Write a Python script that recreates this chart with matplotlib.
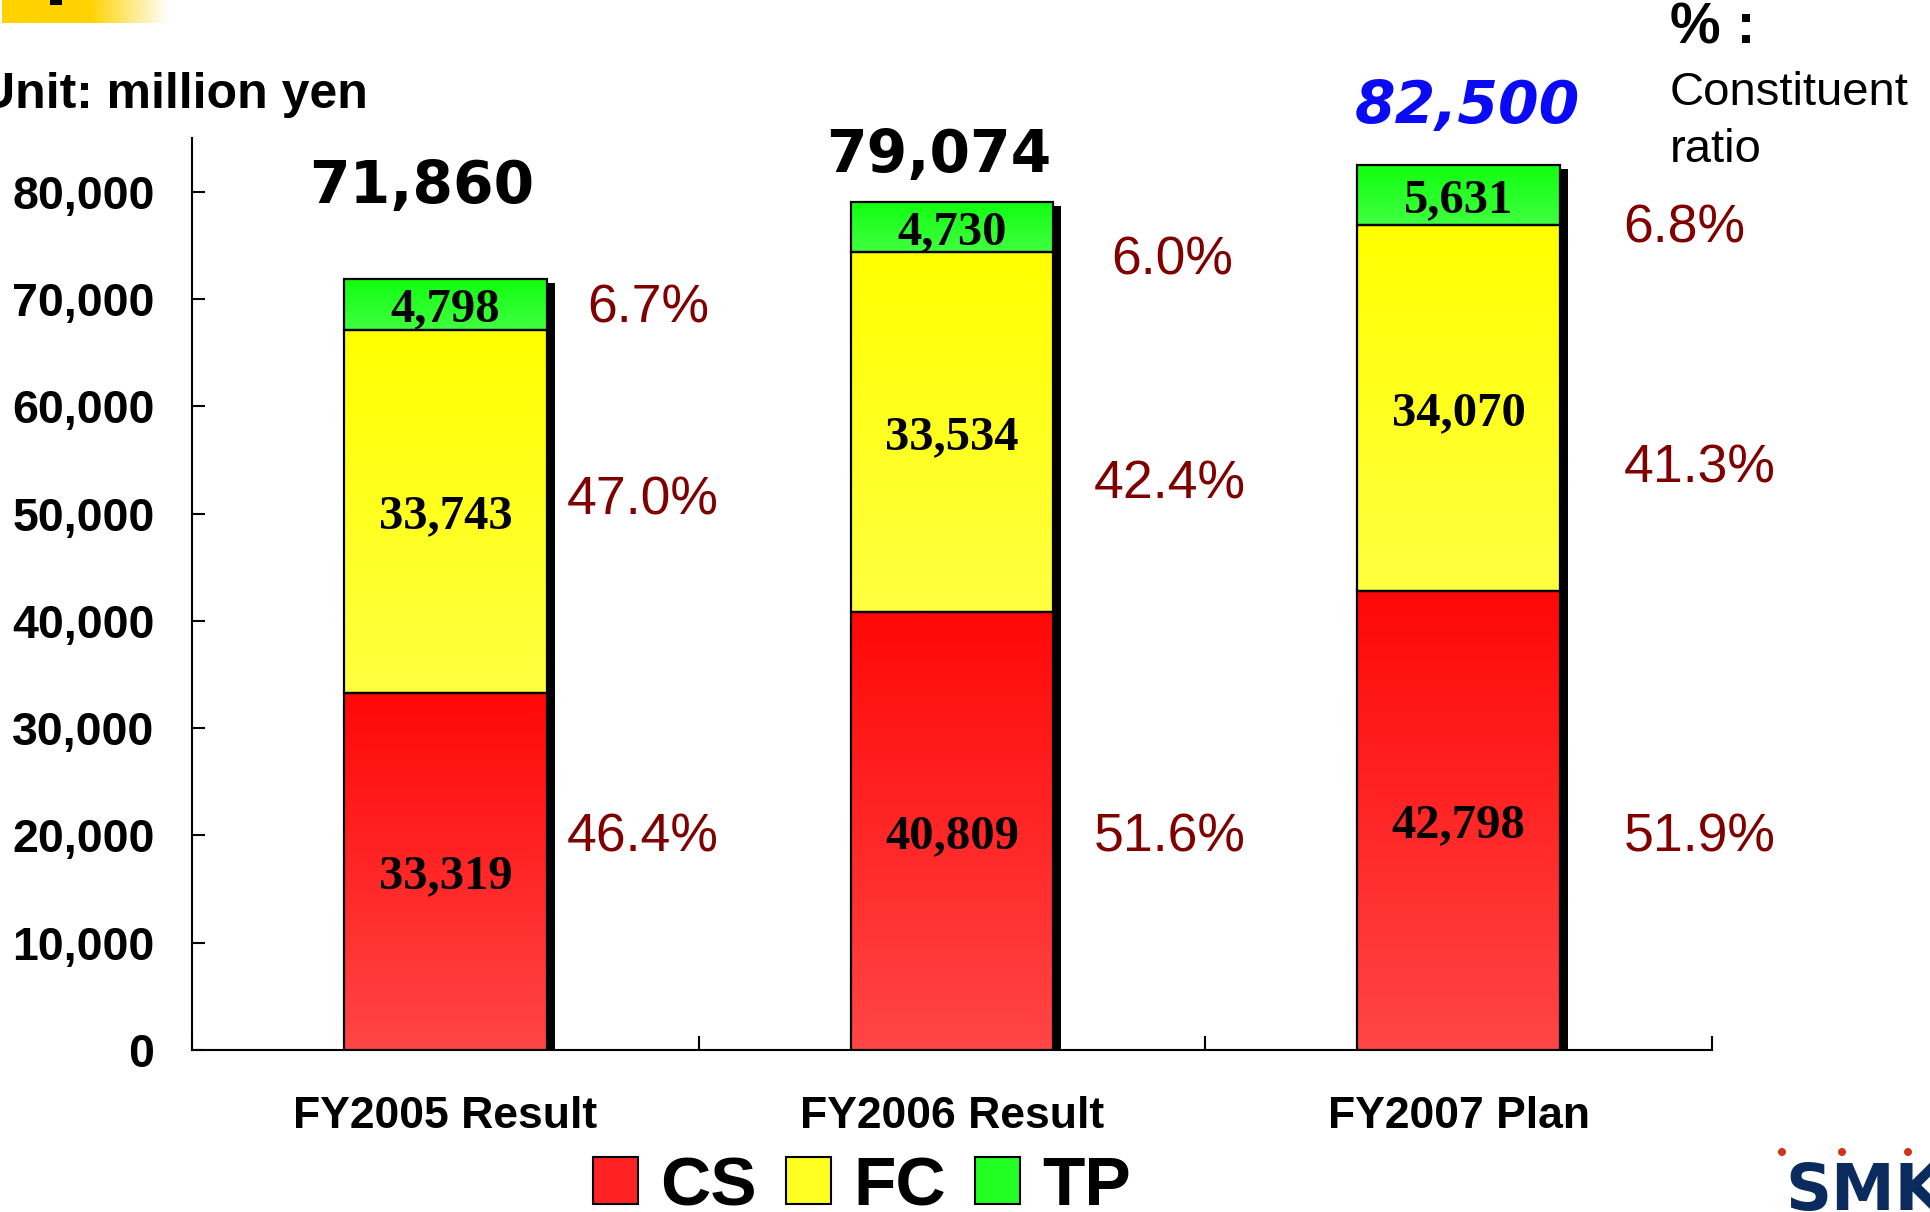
import numpy as np
import matplotlib
matplotlib.use('Agg')
import matplotlib.pyplot as plt
import matplotlib.patches as patches
import matplotlib.transforms as mtransforms
from matplotlib.font_manager import FontProperties

## DATA
categories = ['FY2005 Result', 'FY2006 Result', 'FY2007 Plan']
series_names = ['CS', 'FC', 'TP']
cs_vals = [33319, 40809, 42798]
fc_vals = [33743, 33534, 34070]
tp_vals = [4798, 4730, 5631]
total_labels = ['71,860', '79,074', '82,500']
cs_pct = ['46.4%', '51.6%', '51.9%']
fc_pct = ['47.0%', '42.4%', '41.3%']
tp_pct = ['6.7%', '6.0%', '6.8%']
yticks = [0, 10000, 20000, 30000, 40000, 50000, 60000, 70000, 80000]

## STYLE
grad_colors = {  # (bottom, top)
    'CS': ('#ff4545', '#ff0808'),
    'FC': ('#ffff40', '#ffff00'),
    'TP': ('#40ff40', '#10ff10'),
}
legend_colors = ['#ff2222', '#ffff22', '#22ff22']
pct_color = '#800000'
W, H = 1930, 1212

fig = plt.figure(figsize=(W / 100, H / 100), dpi=100)
ax = fig.add_axes([192 / W, 1 - 1050 / H, 1520 / W, 912 / H])

x = np.arange(len(categories))
bar_w = 0.4

# shadows behind the stacked bars
totals = np.array(cs_vals) + np.array(fc_vals) + np.array(tp_vals)
shadow_off = mtransforms.ScaledTranslation(8 / 100, -4 / 100, fig.dpi_scale_trans)
shadows = ax.bar(x, totals, bar_w, color='black', linewidth=0, zorder=2)
for p in shadows:
    p.set_transform(ax.transData + shadow_off)


def gradient(c0, c1, n=64):
    a = np.array(matplotlib.colors.to_rgb(c0))
    b = np.array(matplotlib.colors.to_rgb(c1))
    t = np.linspace(0, 1, n)[:, None]
    return (a + (b - a) * t)[:, None, :]


bottom = np.zeros(len(categories))
for name, vals in zip(series_names, [cs_vals, fc_vals, tp_vals]):
    bars = ax.bar(x, vals, bar_w, bottom=bottom, facecolor='none',
                  edgecolor='black', linewidth=1.6, zorder=4)
    g = gradient(*grad_colors[name])
    for rect in bars:
        x0, y0 = rect.get_x(), rect.get_y()
        ax.imshow(g, extent=[x0, x0 + rect.get_width(), y0, y0 + rect.get_height()],
                  origin='lower', aspect='auto', zorder=3, interpolation='bilinear')
    for xi, b, v in zip(x, bottom, vals):
        ax.annotate(f'{v:,}', (xi, b + v / 2), xytext=(0, -3.5), textcoords='offset points',
                    ha='center', va='center', family='Liberation Serif',
                    fontweight='bold', fontsize=35, zorder=5)
    bottom = bottom + np.array(vals)

# totals above bars
tot_dx = [-0.046, -0.026, 0.018]
tot_y = [78975, 81865, 86434]
for i, lab in enumerate(total_labels):
    if i == 2:
        ax.text(x[i] + tot_dx[i], tot_y[i], lab, ha='center', va='baseline',
                fontsize=42, fontweight='bold', style='italic', color='#0a0af5',
                family='DejaVu Sans', clip_on=False)
    else:
        ax.text(x[i] + tot_dx[i], tot_y[i], lab, ha='center', va='baseline',
                fontsize=42, fontweight='bold', color='black',
                family='DejaVu Sans', clip_on=False)

# constituent ratio labels
pct_dx = [[0.39, 0.43, 0.476], [0.39, 0.43, 0.476], [0.40, 0.434, 0.446]]
pct_y = [[18462, 18462, 18462], [49883, 51375, 52867], [67786, 72261, 75245]]
for k, labels in enumerate([cs_pct, fc_pct, tp_pct]):
    for i, lab in enumerate(labels):
        ax.text(x[i] + pct_dx[k][i], pct_y[k][i], lab, ha='center', va='baseline',
                fontsize=38.5, family='Liberation Sans', color=pct_color, clip_on=False)

ax.set_xlim(-0.5, 2.5)
ax.set_ylim(0, 85000)
ax.spines['right'].set_visible(False)
ax.spines['top'].set_visible(False)
ax.spines['left'].set_linewidth(1.5)
ax.spines['bottom'].set_linewidth(1.5)
ax.set_yticks(yticks)
ax.set_yticklabels([f'{v:,}' for v in yticks], family='Liberation Sans',
                   fontweight='bold', fontsize=33.5)
ax.tick_params(axis='y', direction='in', length=9.5, width=1.5, pad=27)
ax.set_xticks([-0.5, 0.5, 1.5, 2.5])
ax.set_xticklabels([])
ax.tick_params(axis='x', which='major', direction='in', length=10, width=1.5)
ax.set_xticks(x, minor=True)
ax.set_xticklabels(categories, minor=True, family='Liberation Sans',
                   fontweight='bold', fontsize=32)
ax.tick_params(axis='x', which='minor', length=0, pad=33)

# legend
handles = [patches.Patch(facecolor=c, edgecolor='black', linewidth=1.5) for c in legend_colors]
leg_font = FontProperties(family='Liberation Sans', weight='bold', size=50)
fig.legend(handles, series_names, loc='center', bbox_to_anchor=(862 / W, 1 - 1187 / H),
           ncol=3, frameon=False, prop=leg_font, handlelength=0.65, handleheight=0.65,
           handletextpad=0.32, columnspacing=0.42, borderpad=0, borderaxespad=0)

## DECORATION (pixel overlay)
ov = fig.add_axes([0, 0, 1, 1], zorder=5)
ov.axis('off')
ov.patch.set_visible(False)

# orange header strip fading out
xs = np.linspace(2, 170, 200)
strip = np.zeros((1, 200, 4))
strip[..., :3] = matplotlib.colors.to_rgb('#ffd200')
strip[0, :, 3] = np.clip((170 - xs) / 80, 0, 1)
ov.imshow(strip, extent=[2, 170, 23, 0], aspect='auto', interpolation='bilinear')
ov.add_patch(patches.Rectangle((50, 0), 12, 5, color='black', linewidth=0))
ov.set_xlim(0, W)
ov.set_ylim(H, 0)

ov.text(368, 108, 'Unit: million yen', ha='right', va='baseline',
        family='Liberation Sans', fontweight='bold', fontsize=36)
ov.text(1670, 43, '% :', ha='left', va='baseline',
        family='Liberation Sans', fontweight='bold', fontsize=41)
ov.text(1670, 105, 'Constituent', ha='left', va='baseline',
        family='Liberation Sans', fontsize=34)
ov.text(1670, 162, 'ratio', ha='left', va='baseline',
        family='Liberation Sans', fontsize=34)

# SMK logo, cut by the right edge
ov.text(1785, 1210, 'SMK', ha='left', va='baseline', family='DejaVu Sans',
        fontweight='bold', fontsize=46, color='#0b2a5e', clip_on=False)
for dx in [1782, 1842, 1908]:
    ov.add_patch(patches.Circle((dx, 1152), 4, color='#d0321a', linewidth=0))

fig.savefig('out.png', dpi=100)
